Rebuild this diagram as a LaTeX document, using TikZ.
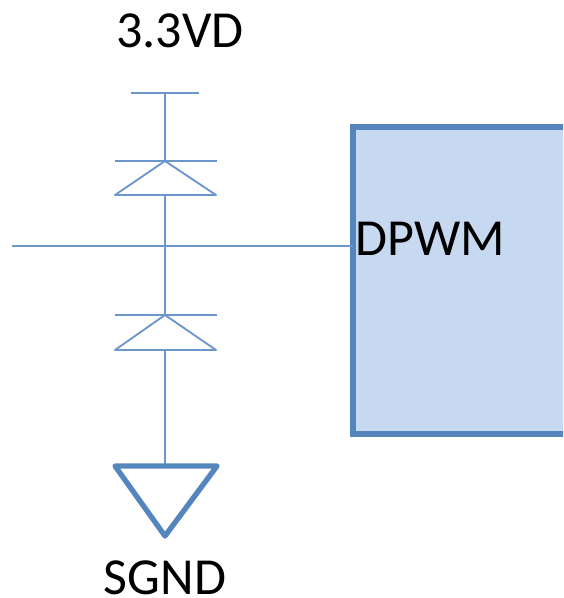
\documentclass[tikz,border=0pt]{standalone}
\usepackage{fontspec}
\setmainfont{Carlito}
\usetikzlibrary{calc}
\definecolor{wireblue}{HTML}{6C97CC}
\definecolor{edgeblue}{HTML}{5585BD}
\definecolor{fillblue}{HTML}{C6D9F1}
\begin{document}
\begin{tikzpicture}[x=0.75pt,y=-0.75pt,
	wire/.style={draw=wireblue,line width=1.4pt},
	thick edge/.style={draw=edgeblue,line width=4pt},
	label/.style={inner sep=0pt,anchor=base,font=\fontsize{39}{39}\selectfont,text=black}]
	\useasboundingbox (0,0) rectangle (563,598);
	\clip (0,0) rectangle (563,598);
	% block
	\node[thick edge,fill=fillblue,minimum width=260*0.75pt,minimum height=307*0.75pt,inner sep=0pt,outer sep=0pt,anchor=north west] (B) at (353,127) {};
	\node[label,anchor=base west] (DP) at (355,255) {DPWM};
	\node[label] (V) at (180,48) {3.3VD};
	\node[label] (G) at (165,594) {SGND};
	% points on the rails
	\coordinate (Top) at (165,93);
	\coordinate (A1) at (165,161);
	\coordinate (K1) at (165,195);
	\coordinate (J) at (165,246);
	\coordinate (A2) at (165,315);
	\coordinate (K2) at (165,350);
	\coordinate (Gt) at (165,466);
	\coordinate (In) at (12,246);
	\draw[wire] (131,93) -- (199,93);
	\draw[wire] (115,161) -- (217,161) (115,315) -- (217,315);
	\draw[wire,line join=round] (A1) -- (216,195) -- (115,195) -- cycle;
	\draw[wire,line join=round] (A2) -- (216,350) -- (115,350) -- cycle;
	\draw[wire] (Top) -- (A1);
	\draw[wire] (K1) -- (A2);
	\draw[wire] (K2) -- (Gt);
	\draw[wire] (In) -- (B.west |- J);
	\draw[thick edge,line join=round] (115,466) -- (217,466) -- (165,536) -- cycle;
\end{tikzpicture}
\end{document}
